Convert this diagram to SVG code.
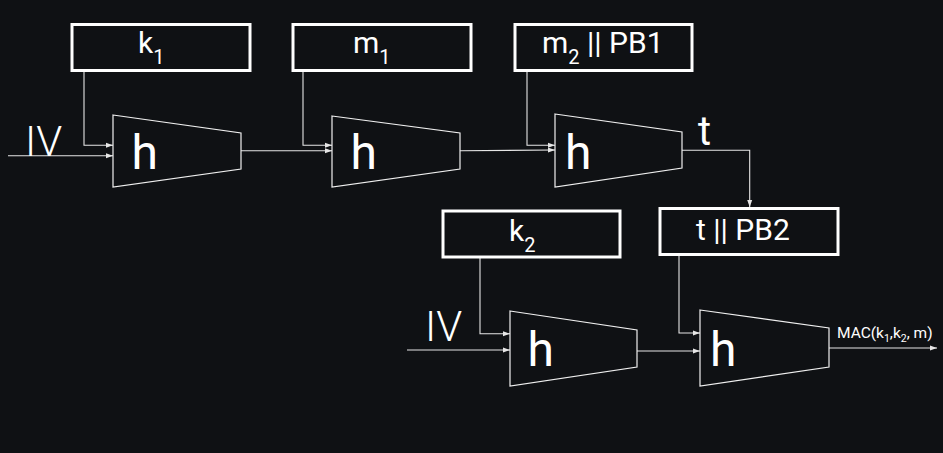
<svg xmlns="http://www.w3.org/2000/svg" width="943" height="453" viewBox="0 0 943 453">
<defs>
<marker id="ah" markerWidth="7" markerHeight="6" refX="7" refY="3" orient="auto" markerUnits="userSpaceOnUse">
<path d="M0,0.5 L7,3 L0,5.5 Z" fill="#e6e6e6"/>
</marker>
<style>
.bg{fill:#0f1114}
.box{fill:none;stroke:#ffffff;stroke-width:3}
.trap{fill:none;stroke:#f0f0f0;stroke-width:1.2}
.ln{fill:none;stroke:#e6e6e6;stroke-width:1.1}
.arr{marker-end:url(#ah)}
text{font-family:Roboto,"Liberation Sans",sans-serif;font-weight:400;fill:#ffffff}
.bt{font-size:30px}
.sub{font-size:20px}
.big{font-size:48px}
.iv{font-size:42px;font-weight:300}
.mac{font-size:15.5px}
</style>
</defs>
<rect class="bg" x="0" y="0" width="943" height="453"/>
<g id="connectors">
<path class="ln arr" d="M84,70 V145.3 H113"/>
<path class="ln arr" d="M8,155.7 H113"/>
<path class="ln arr" d="M241,150.7 H332"/>
<path class="ln arr" d="M303,71 V145.3 H332"/>
<path class="ln arr" d="M460,150.7 L555,150"/>
<path class="ln arr" d="M527,71 V145.3 H555"/>
<path class="ln arr" d="M682,150.3 H749.7 V207"/>
<path class="ln arr" d="M480,258 V333.7 H510"/>
<path class="ln arr" d="M407,350 H510"/>
<path class="ln arr" d="M637,351 H700"/>
<path class="ln arr" d="M679,256 V333 H700"/>
<path class="ln arr" d="M829,348 H937"/>
</g>
<g id="k1"><rect class="box" x="72" y="24.5" width="178" height="46"/><text class="bt" x="138" y="53">k<tspan class="sub" dy="11">1</tspan></text></g>
<g id="m1"><rect class="box" x="293" y="24.5" width="178" height="46"/><text class="bt" x="353" y="53">m<tspan class="sub" dy="11">1</tspan></text></g>
<g id="m2pb1"><rect class="box" x="515" y="24.5" width="177" height="46"/><text class="bt" x="542" y="53">m<tspan class="sub" dy="11">2</tspan><tspan dy="-11"> || PB1</tspan></text></g>
<g id="k2"><rect class="box" x="443" y="211" width="177" height="46"/><text class="bt" x="509" y="241">k<tspan class="sub" dy="11">2</tspan></text></g>
<g id="tpb2"><rect class="box" x="660" y="208.5" width="178" height="46"/><text class="bt" x="696" y="240">t || PB2</text></g>
<g id="h1"><polygon class="trap" points="113,115 241,133 241,169 113,187"/><text class="big" x="131.5" y="169">h</text></g>
<g id="h2"><polygon class="trap" points="332,116 460,133 460,169 332,187"/><text class="big" x="350.5" y="169">h</text></g>
<g id="h3"><polygon class="trap" points="555,114 682,132 682,168 555,187"/><text class="big" x="565" y="169">h</text></g>
<g id="h4"><polygon class="trap" points="510,311 637,330 637,367 510,386"/><text class="big" x="527.5" y="365.5">h</text></g>
<g id="h5"><polygon class="trap" points="700,310 829,328 829,367 700,386"/><text class="big" x="710" y="365.5">h</text></g>
<g id="labels">
<text class="iv" x="25" y="156">IV</text>
<text class="iv" x="425" y="340.6">IV</text>
<text class="bt" x="698" y="145" style="font-size:40px">t</text>
<text class="mac" x="837" y="338">MAC(k<tspan font-size="10.5" dy="4">1</tspan><tspan dy="-4">,k</tspan><tspan font-size="10.5" dy="4">2</tspan><tspan dy="-4">, m)</tspan></text>
</g>
</svg>
